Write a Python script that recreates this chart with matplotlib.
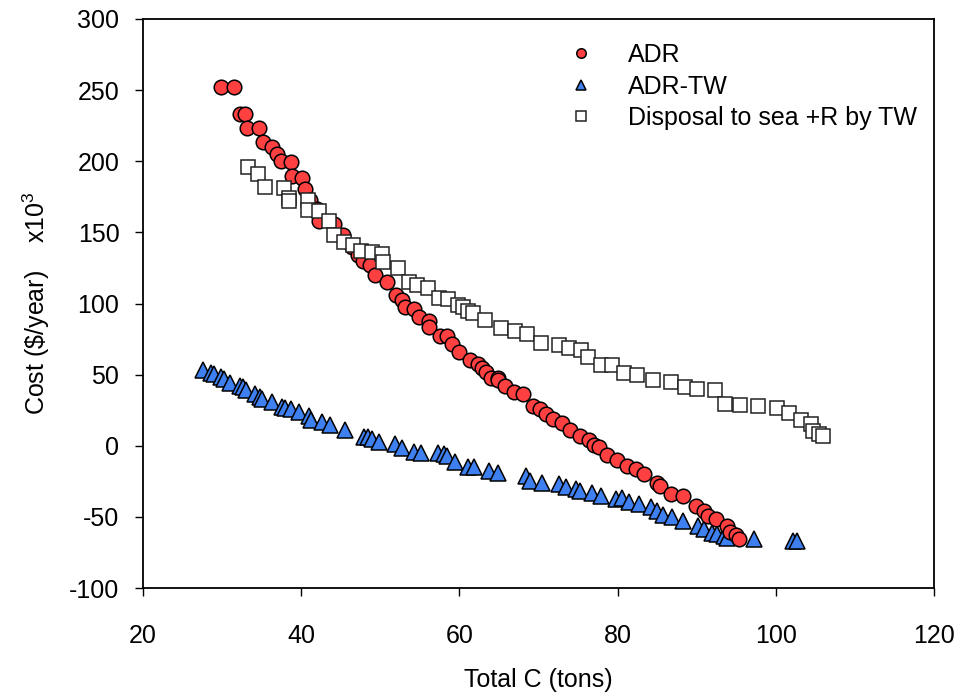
import matplotlib
matplotlib.use("Agg")
import matplotlib.pyplot as plt

plt.rcParams['font.family'] = ['Liberation Sans', 'DejaVu Sans']
plt.rcParams['axes.unicode_minus'] = False
plt.rcParams['mathtext.fontset'] = 'custom'
plt.rcParams['mathtext.rm'] = 'Liberation Sans'
plt.rcParams['mathtext.it'] = 'Liberation Sans'

# ADR (red circles)
adr_x = [29.9, 31.5, 32.2, 32.9, 33.2, 34.7, 35.2, 36.3, 36.9, 37.5, 38.7, 38.9, 40.1, 40.5,
         41.1, 42.0, 42.2, 44.2, 45.3, 46.4, 47.2, 47.8, 48.7, 49.35, 50.8, 52.0, 52.8, 53.1,
         54.3, 54.85, 56.2, 56.2, 57.6, 58.4, 59.1, 60.0, 61.3, 62.3, 62.8, 63.4, 64.0, 64.9,
         64.9, 65.8, 66.9, 68.0, 69.3, 70.2, 70.9, 71.8, 73.0, 74.0, 75.3, 76.4, 77.0, 77.7,
         78.6, 79.9, 81.2, 82.3, 83.3, 85.0, 85.4, 86.7, 88.3, 89.9, 90.9, 91.4, 92.5, 93.8,
         94.2, 95.0, 95.3]
adr_y = [252.5, 252.3, 233.4, 233.0, 223.6, 223.1, 213.7, 209.9, 204.8, 200.5, 199.4, 189.5,
         188.3, 180.5, 173.0, 166.5, 157.7, 156.0, 148.0, 140.0, 134.0, 130.0, 127.0, 120.1,
         114.8, 106.0, 102.3, 97.8, 95.9, 90.7, 87.5, 83.7, 77.1, 77.1, 71.4, 66.0, 60.6, 57.8,
         55.0, 51.9, 47.9, 47.9, 46.0, 41.8, 37.8, 36.6, 27.7, 26.1, 22.5, 19.0, 15.9, 11.0,
         7.2, 3.8, 0.5, -1.0, -6.5, -10.0, -14.2, -16.5, -19.8, -26.2, -28.0, -34.2, -35.1,
         -42.1, -45.7, -49.2, -51.6, -56.3, -60.3, -62.6, -65.6]

# ADR-TW (blue triangles)
tw_x = [27.6, 28.6, 29.0, 29.85, 30.3, 31.0, 32.2, 32.6, 33.0, 34.2, 34.8, 35.1, 36.3, 37.6,
        38.0, 38.7, 39.7, 41.0, 41.2, 42.6, 43.7, 45.6, 47.9, 48.4, 48.9, 49.8, 51.8, 52.7,
        54.2, 55.2, 57.3, 58.0, 58.4, 59.4, 61.1, 61.9, 63.8, 64.9, 68.4, 68.9, 70.5, 72.6,
        73.5, 74.7, 75.3, 76.8, 77.9, 79.8, 80.6, 81.4, 82.7, 84.2, 85.0, 85.8, 86.9, 88.3,
        90.2, 90.9, 91.9, 92.6, 93.4, 93.8, 97.2, 102.2, 102.7]
tw_y = [53.6, 51.4, 50.5, 48.4, 47.0, 44.4, 42.0, 41.0, 39.0, 36.2, 34.5, 33.1, 30.7, 27.2,
        26.5, 25.6, 23.7, 20.6, 18.3, 16.6, 14.3, 10.8, 6.5, 5.8, 4.9, 2.5, 1.3, -1.7, -4.1,
        -5.2, -5.2, -6.0, -6.9, -11.6, -14.6, -15.1, -17.5, -19.3, -21.0, -24.5, -26.4, -26.9,
        -28.8, -30.4, -31.6, -33.5, -35.1, -37.5, -36.7, -39.8, -41.0, -43.3, -46.2, -48.5,
        -50.4, -53.2, -56.3, -58.6, -61.0, -62.0, -63.3, -65.0, -65.7, -66.8, -66.8]

# Disposal to sea +R by TW (open squares)
ds_x = [33.3, 34.5, 35.4, 37.8, 38.4, 38.4, 40.8, 40.8, 42.2, 43.5, 44.1, 45.4, 46.6, 47.6,
        48.9, 50.2, 50.4, 52.3, 53.6, 54.6, 56.0, 57.4, 58.5, 59.8, 60.5, 61.1, 61.7, 63.2,
        65.3, 67.0, 68.6, 70.3, 72.6, 73.9, 75.4, 76.2, 77.9, 79.3, 80.8, 82.4, 84.5, 86.7,
        88.5, 90.0, 92.3, 93.6, 95.5, 97.8, 100.1, 101.7, 103.2, 104.5, 104.7, 105.5, 106.0]
ds_y = [195.8, 191.1, 181.7, 181.2, 174.2, 171.8, 173.0, 166.0, 164.8, 158.0, 148.3, 142.9,
        141.3, 137.0, 136.5, 134.7, 129.5, 124.8, 115.0, 113.0, 110.7, 103.7, 102.9, 99.0,
        97.8, 94.5, 93.1, 88.4, 82.5, 80.8, 78.5, 72.4, 70.7, 68.4, 67.2, 62.5, 57.0, 56.6,
        51.2, 50.0, 46.0, 44.5, 41.3, 40.2, 39.0, 29.6, 28.4, 27.7, 26.5, 23.0, 17.8, 15.0,
        10.3, 8.4, 7.2]

x_ticks = [20, 40, 60, 80, 100, 120]
y_ticks = [-100, -50, 0, 50, 100, 150, 200, 250, 300]

fig = plt.figure(figsize=(9.62, 6.96), dpi=100)
ax = fig.add_axes([143 / 962, 1 - 588 / 696, (934 - 143) / 962, (588 - 19) / 696])

h1, = ax.plot(adr_x, adr_y, 'o', ms=10.5, mfc='#FF4040', mec='black', mew=1.1,
              label='ADR', zorder=3)
h2, = ax.plot(tw_x, tw_y, '^', ms=11, mfc='#3F80F0', mec='black', mew=1.1,
              label='ADR-TW', zorder=2)
h3, = ax.plot(ds_x, ds_y, 's', ms=10, mfc='white', mec='#222222', mew=1.1,
              label='Disposal to sea +R by TW', zorder=4)

ax.set_xlim(20, 120)
ax.set_ylim(-100, 300)
ax.set_xticks(x_ticks)
ax.set_yticks(y_ticks)
ax.tick_params(direction='out', length=6, width=1, labelsize=18)
ax.tick_params(axis='x', pad=20)
ax.tick_params(axis='y', pad=11)
for s in ax.spines.values():
    s.set_linewidth(1.3)

ax.set_xlabel('Total C (tons)', fontsize=18, labelpad=14)
ax.set_ylabel('Cost (\\$/year)    x10$^3$', fontsize=18, labelpad=12)

leg = ax.legend(handles=[h1, h2, h3], loc='upper left', bbox_to_anchor=(0.525, 0.975),
                frameon=False, fontsize=18, markerscale=0.65, handlelength=1.0,
                handletextpad=1.4, labelspacing=0.3, borderaxespad=0)

fig.savefig('out.png', dpi=100)
